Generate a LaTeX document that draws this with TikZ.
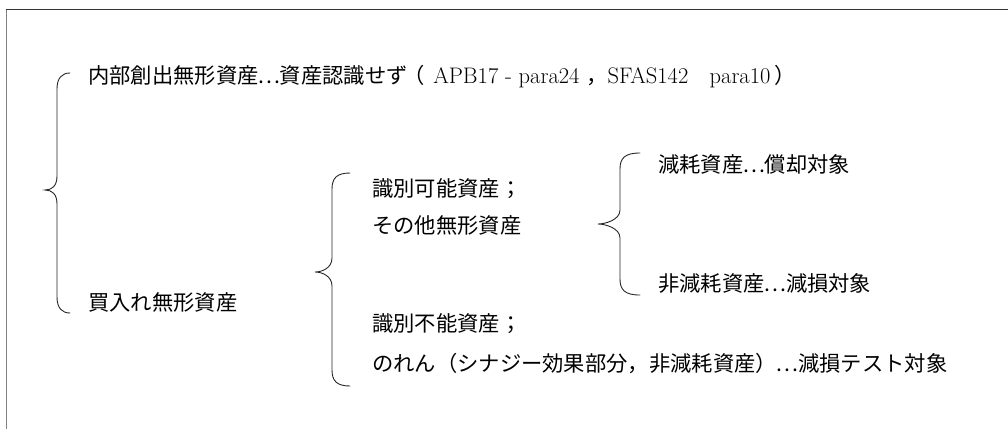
\documentclass[tikz,border=0pt]{standalone}
\usepackage{fontspec}
\newfontfamily\jp{Noto Sans CJK JP}
\newcommand\jdots{\makebox[1em][c]{.\kern0.1em.\kern0.1em.}}
\newcommand\lat[1]{{\rmfamily\fontsize{22.5}{26}\selectfont #1}}
\newcommand\cbrace[6]{%
  \draw[bracestyle] (#1,#4) .. controls (#2+5,#4) and (#2,#4+5) .. (#2,#4+16)
    -- (#2,#5-14) .. controls (#2,#5-4) and (#3+7,#5) .. (#3,#5)
    .. controls (#3+7,#5) and (#2,#5+4) .. (#2,#5+14)
    -- (#2,#6-16) .. controls (#2,#6-5) and (#2+5,#6) .. (#1,#6);}
\begin{document}
\begin{tikzpicture}[x=1pt,y=-1pt,
  lbl/.style={anchor=west, inner sep=0pt, font=\jp\fontsize{21.3}{25}\selectfont},
  bracestyle/.style={line width=0.9pt, black!85, line cap=round}]
\useasboundingbox (0,0) rectangle (1008,429);
\draw[line width=1.6pt, black!80] (6,9.5) -- (1008,9.5);
\draw[line width=1.6pt, black!50] (6.5,9.5) -- (6.5,429);
% texts
\node[lbl] (t1) at (88,77) {内部創出無形資産\jdots 資産認識せず\hspace{-0.2em}（\hspace{0.4em}\lat{APB17 - para24 }，\lat{SFAS142}　\lat{para10}\hspace{0.2em}）};
\node[lbl] (t2) at (88,302) {買入れ無形資産};
\node[lbl] (t3) at (372,189) {識別可能資産；};
\node[lbl] (t4) at (372,225) {その他無形資産};
\node[lbl] (t5) at (372,324) {識別不能資産；};
\node[lbl] (t6) at (372,364) {のれん（シナジー効果部分，非減耗資産）\jdots 減損テスト対象};
\node[lbl] (t7) at (658,164) {減耗資産\jdots 償却対象};
\node[lbl] (t8) at (658,283) {非減耗資産\jdots 減損対象};
% braces
\cbrace{70}{57}{45}{73}{190}{313}
\cbrace{350}{332}{315}{173}{272}{386}
\cbrace{640}{620}{598}{153}{224}{295}
\end{tikzpicture}
\end{document}
